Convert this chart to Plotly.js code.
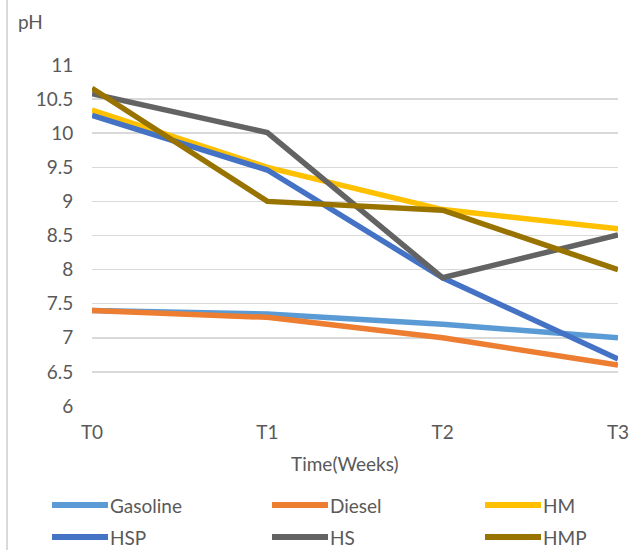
<!DOCTYPE html>
<html>
<head>
<meta charset="utf-8">
<script src="https://cdn.plot.ly/plotly-3.0.1.min.js"></script>
<style>
  html, body { margin: 0; padding: 0; background: #fff; }
  #chart { width: 629px; height: 550px; }
</style>
</head>
<body>
<div id="chart"></div>
<script>
// pH readings per sample over the weeks of the trial
const weeks = ['T0', 'T1', 'T2', 'T3'];
const seriesNames = ['Gasoline', 'Diesel', 'HM', 'HSP', 'HS', 'HMP'];
const gasoline = [7.4, 7.35, 7.2, 7.0];
const diesel   = [7.4, 7.3, 7.0, 6.6];
const hm       = [10.34, 9.5, 8.88, 8.6];
const hsp      = [10.26, 9.46, 7.88, 6.69];
const hs       = [10.58, 10.01, 7.88, 8.51];
const hmp      = [10.66, 9.0, 8.87, 8.0];
const colors = ['#5B9BD5', '#ED7D31', '#FFC000', '#4472C4', '#636363', '#997300'];

const values = [gasoline, diesel, hm, hsp, hs, hmp];

// plot area in pixels
const W = 629, H = 550;
const M = { l: 92, r: 11, t: 65, b: 144 };
const pw = W - M.l - M.r, ph = H - M.t - M.b;
const px = x => (x - M.l) / pw;
const py = y => (H - M.b - y) / ph;

const FONT = 'Lato, "Open Sans", sans-serif';
const GREY = '#595959';
const FS = 19;

const traces = seriesNames.map((name, i) => ({
  type: 'scatter',
  mode: 'lines',
  name: name,
  x: weeks,
  y: values[i],
  line: { color: colors[i], width: 5.5 },
  hoverinfo: 'x+y+name'
}));

// legend: three columns, two rows
const shapes = [];
const annotations = [];
const colX = [52, 272, 485];
const rowY = [505, 537];
seriesNames.forEach((name, i) => {
  const cx = colX[i % 3], cy = rowY[Math.floor(i / 3)];
  shapes.push({
    type: 'line', xref: 'paper', yref: 'paper',
    x0: px(cx), x1: px(cx + 56), y0: py(cy), y1: py(cy),
    line: { color: colors[i], width: 6 }
  });
  annotations.push({
    xref: 'paper', yref: 'paper', x: px(cx + 56), y: py(cy),
    xanchor: 'left', yanchor: 'middle', showarrow: false,
    text: name, font: { family: FONT, size: FS, color: GREY }
  });
});

// left frame edge
shapes.push({
  type: 'line', xref: 'paper', yref: 'paper',
  x0: px(7), x1: px(7), y0: py(0), y1: py(H),
  line: { color: '#d9d9d9', width: 2 }
});

annotations.push({
  xref: 'paper', yref: 'paper', x: px(30), y: py(22),
  xanchor: 'center', yanchor: 'middle', showarrow: false,
  text: 'pH', font: { family: FONT, size: FS, color: GREY }
});
annotations.push({
  xref: 'paper', yref: 'paper', x: px(345), y: py(463),
  xanchor: 'center', yanchor: 'middle', showarrow: false,
  text: 'Time(Weeks)', font: { family: FONT, size: FS, color: GREY }
});

const layout = {
  width: W, height: H,
  margin: M,
  paper_bgcolor: '#fff', plot_bgcolor: '#fff',
  showlegend: false,
  font: { family: FONT, size: FS, color: GREY },
  xaxis: {
    type: 'category',
    range: [0, 3],
    showgrid: false, zeroline: false, showline: false,
    ticks: 'outside', ticklen: 9, tickcolor: 'rgba(0,0,0,0)',
    tickfont: { family: FONT, size: FS, color: GREY },
    fixedrange: true
  },
  yaxis: {
    range: [6, 11],
    dtick: 0.5, tick0: 6,
    showgrid: true, gridcolor: '#d9d9d9', gridwidth: 1.5,
    zeroline: false, showline: false,
    ticks: 'outside', ticklen: 14, tickcolor: 'rgba(0,0,0,0)',
    tickfont: { family: FONT, size: FS, color: GREY },
    fixedrange: true
  },
  shapes: shapes,
  annotations: annotations
};

Plotly.newPlot('chart', traces, layout, { displayModeBar: false, staticPlot: true });
</script>
</body>
</html>
